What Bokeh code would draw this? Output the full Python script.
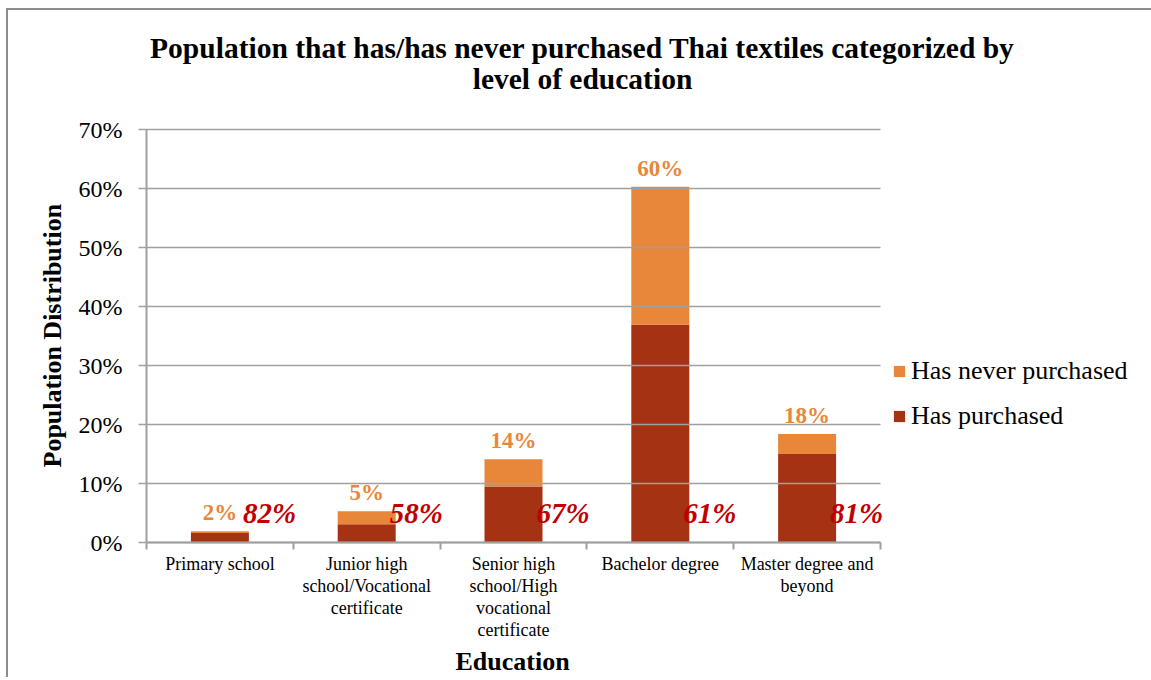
from bokeh.plotting import figure
from bokeh.models import (ColumnDataSource, Range1d, FixedTicker, PrintfTickFormatter,
                          LabelSet, Label, Legend, LegendItem, Title)
from bokeh.core.properties import value
from bokeh.embed import file_html
from bokeh.resources import INLINE

# ---- data ----
categories = ["Primary school",
              "Junior high\nschool/Vocational\ncertificate",
              "Senior high\nschool/High\nvocational\ncertificate",
              "Bachelor degree",
              "Master degree and\nbeyond"]
has_purchased = [1.6, 3.1, 9.5, 36.9, 15.0]
never_purchased = [0.3, 2.2, 4.6, 23.4, 3.4]
total_labels = ["2%", "5%", "14%", "60%", "18%"]
share_labels = ["82%", "58%", "67%", "61%", "81%"]
y_ticks = [0, 10, 20, 30, 40, 50, 60, 70]
title_lines = ["Population that has/has never purchased Thai textiles categorized by",
               "level of education"]

SERIF = "Liberation Serif"
ORANGE = "#E8863A"
DARKRED = "#A63214"
LABELRED = "#C00000"
GRID = "#a0a0a0"

# layout constants (pixels)
PLOT_W = 734      # width of the gridded plot area
PLOT_H = 413      # height of the gridded plot area (0..70 %)
FRAME_W = 1005    # frame runs to the right edge so labels/legend are not clipped
FRAME_H = 532     # frame runs to the top edge so the title can live inside it
Y_MAX = y_ticks[-1]

n = len(categories)
xs = [i + 0.5 for i in range(n)]
totals = [a + b for a, b in zip(has_purchased, never_purchased)]
src = ColumnDataSource(dict(x=xs, purchased=has_purchased, never=never_purchased,
                            total=totals, tlab=total_labels, slab=share_labels))

p = figure(frame_width=FRAME_W, frame_height=FRAME_H,
           x_range=Range1d(0, n * FRAME_W / PLOT_W),
           y_range=Range1d(0, Y_MAX * FRAME_H / PLOT_H),
           title=None, output_backend="svg", toolbar_location=None,
           min_border_left=138, min_border_right=0, min_border_top=0,
           min_border_bottom=120, margin=(8, 0, 0, 6),
           styles={"border-left": "2px solid #8c8c8c", "border-top": "2px solid #8c8c8c"})
p.outline_line_color = None
p.background_fill_color = "white"
p.border_fill_color = "white"

rs = p.vbar_stack(["purchased", "never"], x="x", width=0.395, source=src,
                  color=[DARKRED, ORANGE], line_color=None)
r_purch, r_never = rs

# y axis; its inward ticks act as the gridlines across the plot area
ya = p.yaxis[0]
ya.ticker = FixedTicker(ticks=y_ticks)
ya.formatter = PrintfTickFormatter(format="%d%%")
ya.bounds = (0, Y_MAX)
ya.major_label_text_font = SERIF
ya.major_label_text_font_size = "24px"
ya.major_label_text_color = "black"
ya.major_tick_out = 8
ya.major_tick_in = PLOT_W
ya.major_tick_line_color = GRID
ya.major_tick_line_width = 1.6
ya.minor_tick_line_color = None
ya.axis_line_color = GRID
ya.axis_line_width = 2
ya.major_label_standoff = 16

# x axis: labels at category centres, ticks at category boundaries
xa = p.xaxis[0]
xa.ticker = FixedTicker(ticks=xs, minor_ticks=list(range(n + 1)))
xa.bounds = (0, n)
xa.major_label_overrides = {x: c for x, c in zip(xs, categories)}
xa.major_label_text_font = SERIF
xa.major_label_text_font_size = "18px"
xa.major_label_text_line_height = 1.1
xa.major_label_text_color = "black"
xa.major_tick_line_color = None
xa.major_tick_out = 7
xa.major_tick_in = 0
xa.minor_tick_out = 7
xa.minor_tick_in = 0
xa.minor_tick_line_color = GRID
xa.minor_tick_line_width = 2
xa.axis_line_color = GRID
xa.axis_line_width = 2
xa.major_label_standoff = 4

p.xgrid.visible = False
p.ygrid.visible = False

# value labels
p.add_layout(LabelSet(x="x", y="total", text="tlab", source=src,
                      text_align="center", text_baseline="alphabetic", y_offset=11,
                      text_font=value(SERIF), text_font_size="23px",
                      text_font_style="bold", text_color=ORANGE))
p.add_layout(LabelSet(x="x", y=0, text="slab", source=src,
                      text_align="left", text_baseline="alphabetic",
                      x_offset=23, y_offset=20,
                      text_font=value(SERIF), text_font_size="29px",
                      text_font_style="bold italic", text_color=LABELRED))

# chart title (inside the tall frame, above the plot area)
for txt, yy in zip(title_lines, [495, 464]):
    p.add_layout(Label(x=436, y=yy, x_units="screen", y_units="screen", text=txt,
                       text_align="center", text_baseline="alphabetic",
                       text_font=SERIF, text_font_size="29.5px",
                       text_font_style="bold", text_color="black"))

# axis titles
p.add_layout(Title(text="Population Distribution", align="left", offset=75, standoff=17,
                   text_font=SERIF, text_font_size="26px", text_font_style="bold",
                   text_color="black"), "left")
p.add_layout(Title(text="Education", align="left", offset=309, standoff=4,
                   text_font=SERIF, text_font_size="26px", text_font_style="bold",
                   text_color="black"), "below")

legend = Legend(items=[LegendItem(label="Has never purchased", renderers=[r_never]),
                       LegendItem(label="Has purchased", renderers=[r_purch])],
                location=(746, 111), orientation="vertical",
                label_text_font=SERIF, label_text_font_size="26px",
                label_text_color="black",
                glyph_width=14, glyph_height=14, label_height=26, spacing=15,
                padding=0, margin=0, border_line_color=None,
                background_fill_alpha=0, label_standoff=5)
p.add_layout(legend, "center")

open("out.html", "w").write(file_html(p, INLINE))
